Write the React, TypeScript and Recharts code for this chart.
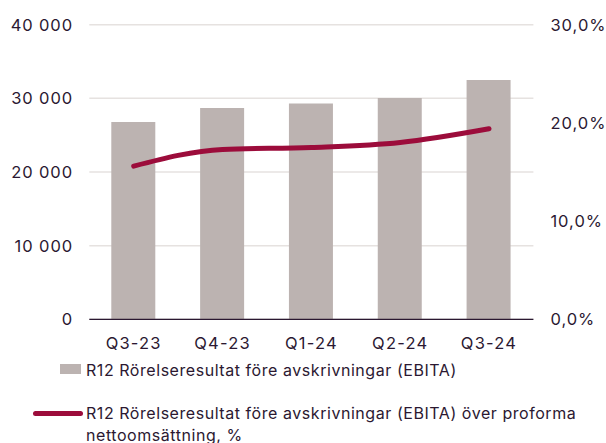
import React from "react";
import {
  ComposedChart,
  Bar,
  Line,
  XAxis,
  YAxis,
  CartesianGrid,
  Legend,
} from "recharts";

const categories = ["Q3-23", "Q4-23", "Q1-24", "Q2-24", "Q3-24"];
const ebitaValues = [26800, 28700, 29300, 30050, 32500];
const marginValues = [15.6, 17.3, 17.5, 18.0, 19.4];
const leftTicks = [0, 10000, 20000, 30000, 40000];
const rightTicks = [0, 10, 20, 30];
const barName = "R12 Rörelseresultat före avskrivningar (EBITA)";
const lineName =
  "R12 Rörelseresultat före avskrivningar (EBITA) över proforma nettoomsättning, %";

const data = categories.map((c, i) => ({
  quarter: c,
  ebita: ebitaValues[i],
  margin: marginValues[i],
}));

const TEXT = "#2b1831";
const FONT = "Inter, 'Noto Sans', sans-serif";
const BAR = "#bcb3b1";
const LINE = "#9c0c3b";

const fmtLeft = (v: number) =>
  String(v).replace(/\B(?=(\d{3})+(?!\d))/g, " ");
const fmtRight = (v: number) => v.toFixed(1).replace(".", ",") + "%";

const LegendContent = (props: any) => {
  const payload = props.payload || [];
  const bar = payload.find((p: any) => p.dataKey === "ebita");
  const line = payload.find((p: any) => p.dataKey === "margin");
  const textStyle: React.CSSProperties = {
    position: "absolute",
    left: 86,
    fontFamily: FONT,
    fontSize: 16,
    letterSpacing: "0.55px",
    color: TEXT,
    lineHeight: "22px",
    whiteSpace: "normal",
  };
  return (
    <div style={{ position: "relative", width: 606, height: 443 }}>
      {bar && (
        <>
          <div
            style={{
              position: "absolute",
              left: 60,
              top: 364,
              width: 21,
              height: 10,
              background: bar.color,
            }}
          />
          <div style={{ ...textStyle, top: 359, width: 515 }}>{bar.value}</div>
        </>
      )}
      {line && (
        <>
          <div
            style={{
              position: "absolute",
              left: 33,
              top: 410.5,
              width: 50,
              height: 5,
              borderRadius: 3,
              background: line.color,
            }}
          />
          <div style={{ ...textStyle, top: 402, width: 515 }}>{line.value}</div>
        </>
      )}
    </div>
  );
};

export default function App() {
  return (
    <div style={{ position: "absolute", left: 0, top: 0, width: 606, height: 443 }}>
      <ComposedChart
        width={606}
        height={443}
        data={data}
        margin={{ top: 24.7, right: 0, bottom: 83.7, left: 0 }}
      >
        <CartesianGrid
          yAxisId="left"
          vertical={false}
          stroke="#e6e2e0"
          strokeWidth={1.5}
        />
        <XAxis
          dataKey="quarter"
          height={40}
          tickLine={false}
          tickSize={0}
          tickMargin={18}
          axisLine={{ stroke: TEXT, strokeWidth: 1.2 }}
          tick={{ fill: TEXT, fontSize: 16.5, fontFamily: FONT, letterSpacing: 1.2 }}
          interval={0}
        />
        <YAxis
          yAxisId="left"
          orientation="left"
          width={89.3}
          domain={[0, 40000]}
          ticks={leftTicks}
          tickFormatter={fmtLeft}
          axisLine={false}
          tickLine={false}
          tickSize={0}
          tickMargin={16.3}
          tick={{ fill: TEXT, fontSize: 16.5, fontFamily: FONT, letterSpacing: 0.9 }}
        />
        <YAxis
          yAxisId="right"
          orientation="right"
          width={72.6}
          domain={[0, 30]}
          ticks={rightTicks}
          tickFormatter={fmtRight}
          axisLine={false}
          tickLine={false}
          tickSize={0}
          tickMargin={17}
          tick={{ fill: TEXT, fontSize: 16.5, fontFamily: FONT, letterSpacing: 1 }}
        />
        <Bar
          yAxisId="left"
          dataKey="ebita"
          name={barName}
          fill={BAR}
          barSize={44}
          isAnimationActive={false}
        />
        <Line
          yAxisId="right"
          dataKey="margin"
          name={lineName}
          type="monotone"
          stroke={LINE}
          strokeWidth={5}
          strokeLinecap="round"
          dot={false}
          activeDot={false}
          isAnimationActive={false}
        />
        <Legend
          layout="horizontal"
          verticalAlign="middle"
          align="center"
          content={<LegendContent />}
          wrapperStyle={{ position: "absolute", left: 0, top: 0, width: 606, height: 443, pointerEvents: "none" }}
        />
      </ComposedChart>
    </div>
  );
}
